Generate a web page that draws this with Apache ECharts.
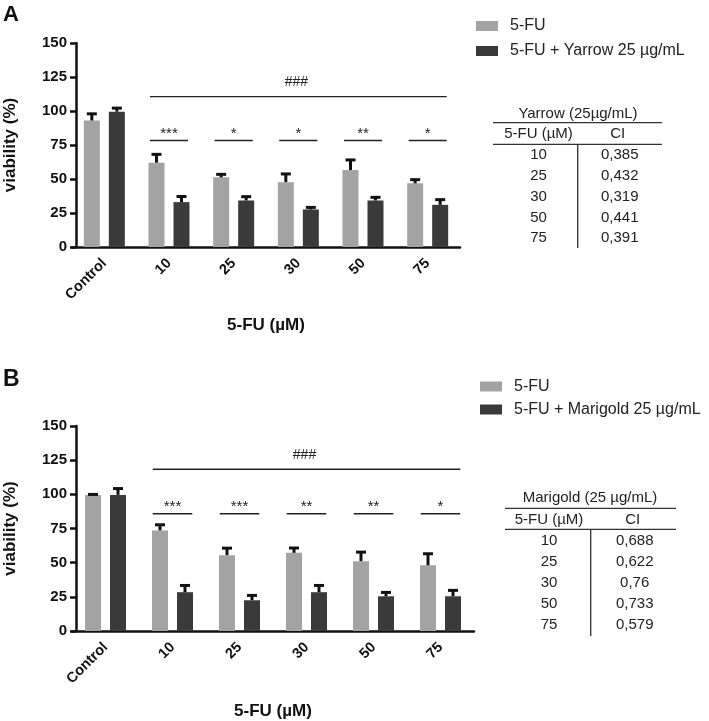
<!DOCTYPE html>
<html><head><meta charset="utf-8">
<script src="https://cdn.jsdelivr.net/npm/echarts@6/dist/echarts.min.js"></script>
<style>html,body{margin:0;padding:0;background:#fff}#c{width:709px;height:721px}</style>
</head><body><div id="c"></div>
<script>
// ---- data ----
const categories = ['Control', '10', '25', '30', '50', '75'];
const fuA = [93, 62, 51.2, 47.7, 56.6, 46.8];
const fuAErr = [5.8, 7, 3.1, 6.9, 8.3, 3.6];
const yarrowA = [99.5, 33, 34.2, 27.6, 34.2, 31];
const yarrowAErr = [3.5, 5, 3.7, 2.4, 3.2, 4.7];
const fuB = [99.6, 73.6, 55.5, 57.2, 51.1, 48.1];
const fuBErr = [1.2, 5, 6, 4.4, 7.5, 9.3];
const marigoldB = [99.6, 28.4, 22.5, 28.4, 25.4, 25.4];
const marigoldBErr = [5.5, 5.8, 4.4, 5.8, 3.7, 5.2];
const sigA = ['***', '*', '*', '**', '*'];
const sigB = ['***', '***', '**', '**', '*'];
const sigLevelA = 78.3, hashLevelA = 110.6;
const sigLevelB = 85.8, hashLevelB = 118.3;
const hashLabel = '###';
const yTicks = [0, 25, 50, 75, 100, 125, 150];
const ciDoses = ['10', '25', '30', '50', '75'];
const ciYarrow = ['0,385', '0,432', '0,319', '0,441', '0,391'];
const ciMarigold = ['0,688', '0,622', '0,76', '0,733', '0,579'];
const nameFU = '5-FU';
const nameYarrow = '5-FU + Yarrow 25 µg/mL';
const nameMarigold = '5-FU + Marigold 25 µg/mL';
const tableTitleA = 'Yarrow (25µg/mL)';
const tableTitleB = 'Marigold (25 µg/mL)';

// ---- styles ----
const FONT = '"Liberation Sans", Arial, Helvetica, sans-serif';
const GREY = '#a3a3a3', DARK = '#3a3a3a', INK = '#111';
const BAR_W = 16, BAR_GAP_PX = 9;
const BAR_OFF = (BAR_W + BAR_GAP_PX) / 2;

function xAxis(gridIndex, nameGap) {
  return {
    type: 'category', gridIndex, data: categories,
    axisLine: { lineStyle: { color: INK, width: 2.5 } },
    axisTick: { alignWithLabel: true, length: 5, lineStyle: { color: INK, width: 2.5 } },
    axisLabel: { rotate: 45, margin: 14, color: INK, fontFamily: FONT, fontWeight: 'bold', fontSize: 14.5 },
    name: '5-FU (µM)', nameLocation: 'middle', nameGap,
    nameTextStyle: { color: INK, fontFamily: FONT, fontWeight: 'bold', fontSize: 17 }
  };
}
function yAxis(gridIndex) {
  return {
    type: 'value', gridIndex, min: yTicks[0], max: yTicks[yTicks.length - 1],
    interval: yTicks[1] - yTicks[0], offset: -4,
    axisLine: { show: true, lineStyle: { color: INK, width: 2.5 } },
    axisTick: { show: true, length: 6, lineStyle: { color: INK, width: 2.5 } },
    splitLine: { show: false },
    axisLabel: { margin: 9, color: INK, fontFamily: FONT, fontWeight: 'bold', fontSize: 15 },
    name: 'viability (%)', nameLocation: 'middle', nameGap: 57,
    nameTextStyle: { color: INK, fontFamily: FONT, fontWeight: 'bold', fontSize: 17 }
  };
}
function bar(name, data, color, idx) {
  return { type: 'bar', name, data, xAxisIndex: idx, yAxisIndex: idx, barWidth: BAR_W, barGap: (BAR_GAP_PX / BAR_W * 100) + '%',
    itemStyle: { color }, z: 2 };
}
function errSeries(vals, errs, sign, idx) {
  return {
    type: 'custom', xAxisIndex: idx, yAxisIndex: idx, z: 3, silent: true,
    data: vals.map((v, i) => [i, v, errs[i]]),
    renderItem(params, api) {
      const i = api.value(0), v = api.value(1), e = api.value(2);
      const p0 = api.coord([i, v]), p1 = api.coord([i, v + e]);
      const x = p0[0] + sign * BAR_OFF;
      return { type: 'group', children: [
        { type: 'line', shape: { x1: x, y1: p0[1], x2: x, y2: p1[1] + 1 }, style: { stroke: INK, lineWidth: 3 } },
        { type: 'line', shape: { x1: x - 5, y1: p1[1] + 1.2, x2: x + 5, y2: p1[1] + 1.2 }, style: { stroke: INK, lineWidth: 3 } }
      ] };
    }
  };
}
function sigSeries(labels, level, idx) {
  return {
    type: 'custom', xAxisIndex: idx, yAxisIndex: idx, z: 3, silent: true,
    data: labels.map((s, i) => [i + 1, level]),
    renderItem(params, api) {
      const c = api.coord([api.value(0), api.value(1)]);
      const half = api.size([1, 0])[0] * 0.295;
      return { type: 'group', children: [
        { type: 'line', shape: { x1: c[0] - half, y1: c[1], x2: c[0] + half, y2: c[1] }, style: { stroke: '#222', lineWidth: 1.4 } },
        { type: 'text', x: c[0], y: c[1] - 7, style: { text: labels[params.dataIndex], font: '15px ' + FONT, fill: '#222', align: 'center', verticalAlign: 'middle' } }
      ] };
    }
  };
}
function hashSeries(level, idx) {
  return {
    type: 'custom', xAxisIndex: idx, yAxisIndex: idx, z: 3, silent: true,
    data: [[1, level, categories.length - 1]],
    renderItem(params, api) {
      const a = api.coord([api.value(0), api.value(1)]);
      const b = api.coord([api.value(2), api.value(1)]);
      const half = api.size([1, 0])[0] * 0.295;
      return { type: 'group', children: [
        { type: 'line', shape: { x1: a[0] - half, y1: a[1], x2: b[0] + half, y2: a[1] }, style: { stroke: '#222', lineWidth: 1.4 } },
        { type: 'text', x: (a[0] + b[0]) / 2 - 2, y: a[1] - 14.5, style: { text: hashLabel, font: '14px ' + FONT, fill: '#222', align: 'center', verticalAlign: 'middle' } }
      ] };
    }
  };
}
function table(cfg) {
  const els = [];
  const txt = (x, y, t) => els.push({ type: 'text', x, y, style: { text: t, font: '15px ' + FONT, fill: '#222', align: 'center', verticalAlign: 'middle' } });
  const ln = (x1, y1, x2, y2) => els.push({ type: 'line', shape: { x1, y1, x2, y2 }, style: { stroke: '#333', lineWidth: 1.3 } });
  txt(cfg.titleX, cfg.titleY, cfg.title);
  ln(cfg.x0, cfg.line1, cfg.x1, cfg.line1);
  txt(cfg.c1, cfg.headY, '5-FU (µM)');
  txt(cfg.c2, cfg.headY, 'CI');
  ln(cfg.x0, cfg.line2, cfg.x1, cfg.line2);
  ln(cfg.vx, cfg.line2, cfg.vx, cfg.bottom);
  cfg.doses.forEach((d, i) => {
    const y = cfg.row0 + i * cfg.rowH;
    txt(cfg.c1, y, d);
    txt(cfg.c2 + 2, y, cfg.ci[i]);
  });
  return els;
}

const option = {
  animation: false,
  backgroundColor: '#fff',
  grid: [
    { left: 72, top: 43, width: 388, height: 204, outerBoundsMode: 'none', containLabel: false },
    { left: 72, top: 426, width: 402, height: 205, outerBoundsMode: 'none', containLabel: false }
  ],
  xAxis: [xAxis(0, 70), xAxis(1, 72)],
  yAxis: [yAxis(0), yAxis(1)],
  legend: [
    { data: [nameFU, nameYarrow], orient: 'vertical', left: 476, top: 18, padding: 0, itemWidth: 22, itemHeight: 10, itemGap: 9,
      icon: 'rect', selectedMode: false,
      textStyle: { fontFamily: FONT, fontSize: 16, color: '#222', padding: [0, 0, 0, 7] } },
    { data: [nameFU, nameMarigold], orient: 'vertical', left: 480, top: 378.5, padding: 0, itemWidth: 22, itemHeight: 10, itemGap: 7,
      icon: 'rect', selectedMode: false,
      textStyle: { fontFamily: FONT, fontSize: 16, color: '#222', padding: [0, 0, 0, 7] } }
  ],
  series: [
    bar(nameFU, fuA, GREY, 0),
    bar(nameYarrow, yarrowA, DARK, 0),
    errSeries(fuA, fuAErr, -1, 0),
    errSeries(yarrowA, yarrowAErr, 1, 0),
    sigSeries(sigA, sigLevelA, 0),
    hashSeries(hashLevelA, 0),
    bar(nameFU, fuB, GREY, 1),
    bar(nameMarigold, marigoldB, DARK, 1),
    errSeries(fuB, fuBErr, -1, 1),
    errSeries(marigoldB, marigoldBErr, 1, 1),
    sigSeries(sigB, sigLevelB, 1),
    hashSeries(hashLevelB, 1)
  ],
  graphic: [
    { type: 'text', left: 3, top: 4, style: { text: 'A', font: 'bold 22px ' + FONT, fill: '#111' } },
    { type: 'text', left: 3, top: 368, style: { text: 'B', font: 'bold 23px ' + FONT, fill: '#111' } },
    { type: 'group', children: table({ title: tableTitleA, titleX: 578, titleY: 114, x0: 493, x1: 662, line1: 122.7,
      headY: 134.3, c1: 538.5, c2: 617.7, line2: 144.3, vx: 577.7, bottom: 248, row0: 155, rowH: 20.8, doses: ciDoses, ci: ciYarrow }) },
    { type: 'group', children: table({ title: tableTitleB, titleX: 590, titleY: 498.3, x0: 505, x1: 676, line1: 508.3,
      headY: 520, c1: 549, c2: 632.7, line2: 529.3, vx: 590.7, bottom: 636, row0: 540.7, rowH: 21.1, doses: ciDoses, ci: ciMarigold }) }
  ]
};
const chart = echarts.init(document.getElementById('c'), null, { renderer: 'canvas' });
chart.setOption(option);
</script>
</body></html>
